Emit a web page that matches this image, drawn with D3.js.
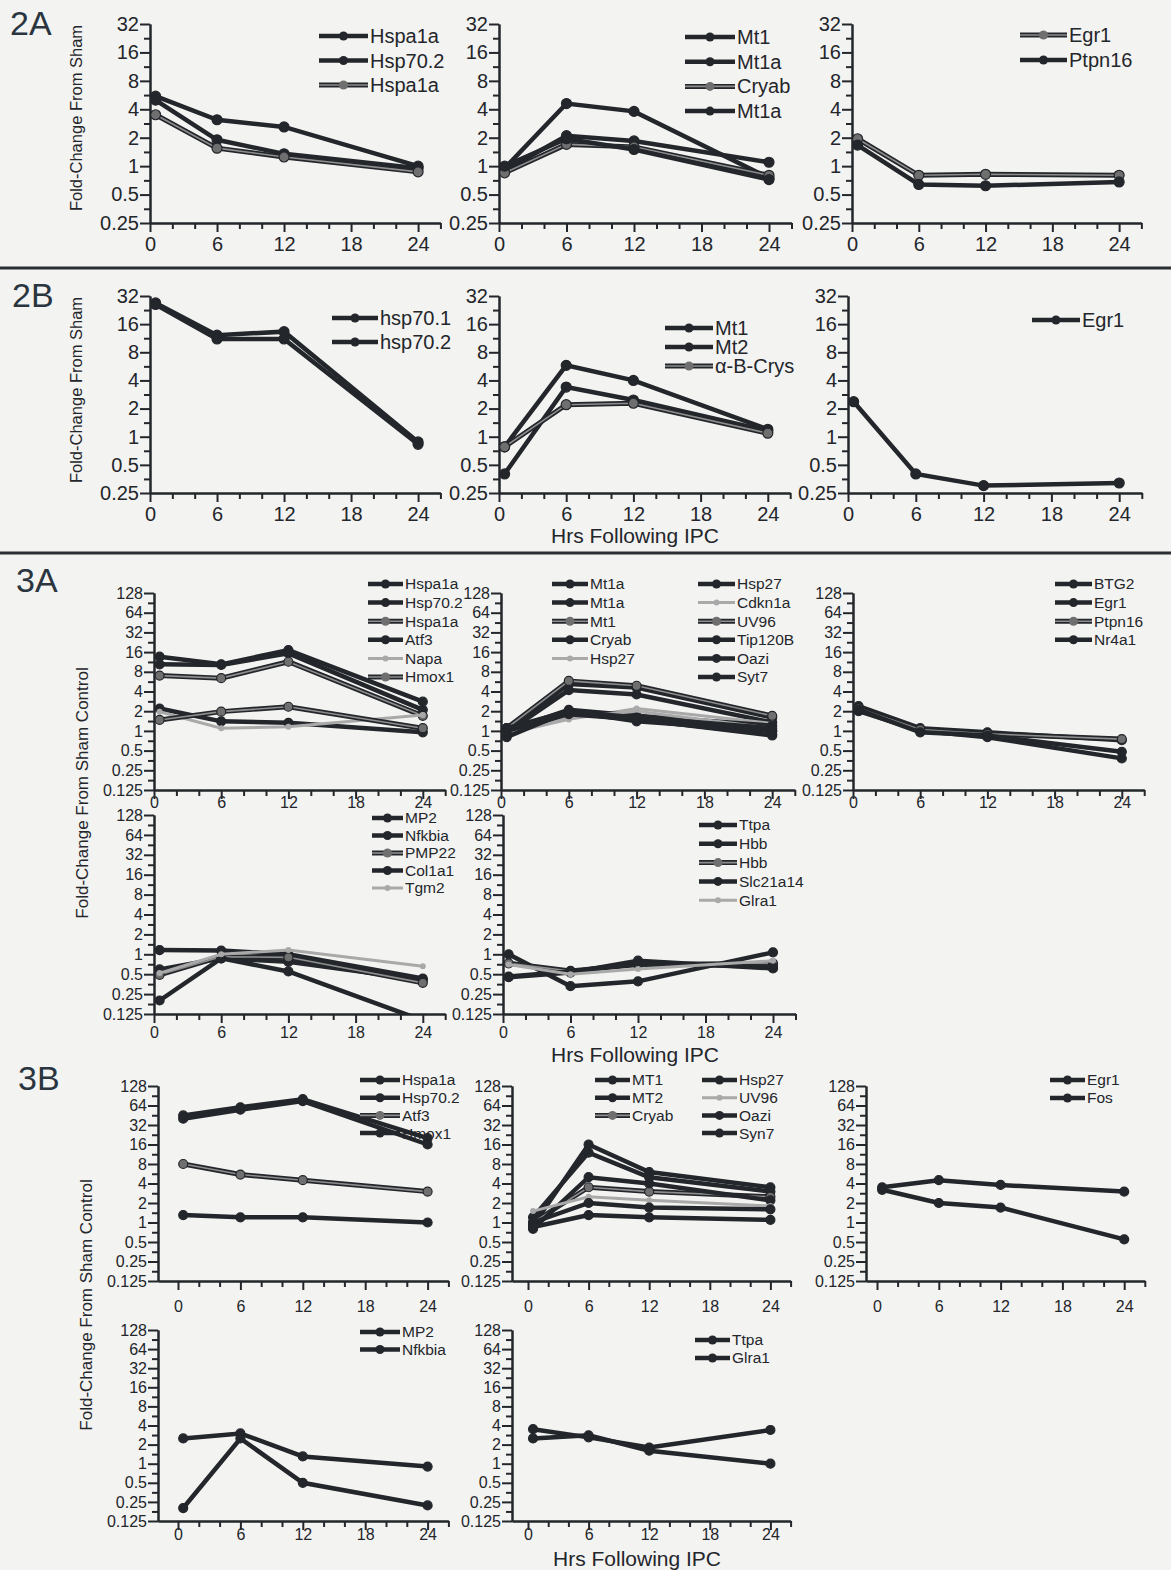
<!DOCTYPE html>
<html>
<head>
<meta charset="utf-8">
<script src="https://cdn.jsdelivr.net/npm/d3@7"></script>
<style>
  body { margin: 0; background: #f3f3f1; }
  svg { display: block; font-family: Arial, "Liberation Sans", sans-serif; }
</style>
</head>
<body>
<svg id="fig" width="1171" height="1570"></svg>
<script>
// ---------- data ----------
const hours = [0.5, 6, 12, 24];
const xTickHours = [0, 6, 12, 18, 24];
const yTicks2 = [0.25, 0.5, 1, 2, 4, 8, 16, 32];
const yTicks3 = [0.125, 0.25, 0.5, 1, 2, 4, 8, 16, 32, 64, 128];

// 2A
const genes2A1 = ["Hspa1a", "Hsp70.2", "Hspa1a"];
const fold2A1 = [[5.5, 3.1, 2.6, 1.0], [5.0, 1.9, 1.35, 0.95], [3.5, 1.55, 1.25, 0.87]];
const genes2A2 = ["Mt1", "Mt1a", "Cryab", "Mt1a"];
const fold2A2 = [[0.95, 4.6, 3.8, 0.75], [0.9, 2.1, 1.85, 1.1], [0.85, 1.7, 1.6, 0.8], [1.0, 1.95, 1.5, 0.72]];
const genes2A3 = ["Egr1", "Ptpn16"];
const fold2A3 = [[1.95, 0.8, 0.82, 0.8], [1.67, 0.64, 0.62, 0.68]];

// 2B
const genes2B1 = ["hsp70.1", "hsp70.2"];
const fold2B1 = [[27, 12.2, 13.3, 0.88], [26, 11.1, 11.1, 0.83]];
const genes2B2 = ["Mt1", "Mt2", "\u03b1-B-Crys"];
const fold2B2 = [[0.78, 5.8, 4.0, 1.2], [0.4, 3.4, 2.47, 1.15], [0.78, 2.2, 2.28, 1.09]];
const genes2B3 = ["Egr1"];
const fold2B3 = [[2.37, 0.4, 0.3, 0.32]];

// 3A
const genes3A1 = ["Hspa1a", "Hsp70.2", "Hspa1a", "Atf3", "Napa", "Hmox1"];
const fold3A1 = [[13.6, 10.4, 17.2, 2.8], [10.4, 10.2, 15.3, 2.1], [7.0, 6.4, 11.4, 1.7],
                 [2.2, 1.4, 1.33, 0.95], [1.96, 1.1, 1.16, 1.75], [1.47, 1.97, 2.34, 1.1]];
const genes3A2 = ["Mt1a", "Mt1a", "Mt1", "Cryab", "Hsp27", "Hsp27", "Cdkn1a", "UV96", "Tip120B", "Oazi", "Syt7"];
const fold3A2 = [[1.0, 5.2, 4.6, 1.6], [0.95, 4.2, 3.6, 1.35], [1.1, 5.8, 4.9, 1.7], [0.85, 2.0, 1.6, 1.0],
                 [0.9, 1.5, 2.2, 1.3], [1.0, 2.1, 1.7, 1.2], [1.05, 1.6, 2.0, 1.1], [0.9, 1.9, 1.5, 0.9],
                 [0.8, 2.0, 1.4, 1.0], [1.0, 1.8, 1.5, 0.85], [1.1, 2.0, 1.6, 1.1]];
const genes3A3 = ["BTG2", "Egr1", "Ptpn16", "Nr4a1"];
const fold3A3 = [[2.4, 1.1, 0.95, 0.72], [2.0, 1.0, 0.8, 0.38], [2.2, 1.05, 0.9, 0.75], [2.1, 0.95, 0.85, 0.48]];
const genes3A4 = ["MP2", "Nfkbia", "PMP22", "Col1a1", "Tgm2"];
const fold3A4 = [[1.16, 1.14, 1.0, 0.43], [0.59, 0.87, 0.77, 0.41], [0.49, 0.92, 0.9, 0.37],
                 [0.2, 0.87, 0.55, 0.1], [0.52, 1.0, 1.16, 0.66]];
const genes3A5 = ["Ttpa", "Hbb", "Hbb", "Slc21a14", "Glra1"];
const fold3A5 = [[1.0, 0.33, 0.39, 1.07], [0.45, 0.53, 0.8, 0.61], [0.73, 0.56, 0.7, 0.73],
                 [0.46, 0.55, 0.72, 0.65], [0.7, 0.5, 0.6, 0.8]];

// 3B
const genes3B1 = ["Hspa1a", "Hsp70.2", "Atf3", "Hmox1"];
const fold3B1 = [[45, 60, 80, 20], [40, 55, 75, 16], [8, 5.5, 4.5, 3], [1.3, 1.2, 1.2, 1.0]];
const genes3B2 = ["MT1", "MT2", "Cryab", "Hsp27", "UV96", "Oazi", "Syn7"];
const fold3B2 = [[0.9, 16, 6, 3.5], [1.2, 12, 5, 3], [1.0, 3.5, 3.0, 2.5], [0.8, 5, 4, 2.2],
                 [1.5, 2.5, 2.2, 1.8], [1.0, 2.0, 1.7, 1.6], [0.85, 1.3, 1.2, 1.1]];
const genes3B3 = ["Egr1", "Fos"];
const fold3B3 = [[3.5, 4.5, 3.8, 3.0], [3.2, 2.0, 1.7, 0.55]];
const genes3B4 = ["MP2", "Nfkbia"];
const fold3B4 = [[2.5, 3.0, 1.3, 0.9], [0.2, 2.5, 0.5, 0.22]];
const genes3B5 = ["Ttpa", "Glra1"];
const fold3B5 = [[3.5, 2.6, 1.8, 3.4], [2.5, 2.8, 1.6, 1.0]];

// ---------- layout ----------
const ink = "#23262b";
const svg = d3.select("#fig");

// d = dark solid, g = gray cased line, l = light gray line
const panels = [
  { genes: genes2A1, fold: fold2A1, style: "ddg", axisX: 150, zeroX: 150, pxH: 11.17, top: 24, bottom: 223, ticks: yTicks2, fs: 20, xBase: 251,
    legend: [{ x: 319, y: 36, dy: 24.5, len: 49, fs: 20, from: 0, to: 3 }] },
  { genes: genes2A2, fold: fold2A2, style: "ddgd", axisX: 499, zeroX: 499, pxH: 11.25, top: 24, bottom: 223, ticks: yTicks2, fs: 20, xBase: 251,
    legend: [{ x: 685, y: 37, dy: 24.7, len: 50, fs: 20, from: 0, to: 4 }] },
  { genes: genes2A3, fold: fold2A3, style: "gd", axisX: 852, zeroX: 852, pxH: 11.13, top: 24, bottom: 223, ticks: yTicks2, fs: 20, xBase: 251,
    legend: [{ x: 1020, y: 35, dy: 25, len: 47, fs: 20, from: 0, to: 2 }] },

  { genes: genes2B1, fold: fold2B1, style: "dd", axisX: 150, zeroX: 150, pxH: 11.17, top: 296, bottom: 493, ticks: yTicks2, fs: 20, xBase: 521,
    legend: [{ x: 332, y: 318, dy: 24, len: 46, fs: 20, from: 0, to: 2 }] },
  { genes: genes2B2, fold: fold2B2, style: "ddg", axisX: 499, zeroX: 499, pxH: 11.2, top: 296, bottom: 493, ticks: yTicks2, fs: 20, xBase: 521,
    legend: [{ x: 665, y: 328, dy: 19, len: 48, fs: 20, from: 0, to: 3 }] },
  { genes: genes2B3, fold: fold2B3, style: "d", axisX: 848, zeroX: 848, pxH: 11.3, top: 296, bottom: 493, ticks: yTicks2, fs: 20, xBase: 521,
    legend: [{ x: 1032, y: 320, dy: 24, len: 48, fs: 20, from: 0, to: 1 }] },

  { genes: genes3A1, fold: fold3A1, style: "ddgdlg", axisX: 154, zeroX: 154, pxH: 11.2, top: 593, bottom: 790, ticks: yTicks3, fs: 16, xBase: 808,
    legend: [{ x: 368, y: 584, dy: 18.6, len: 35, fs: 15.5, from: 0, to: 6 }] },
  { genes: genes3A2, fold: fold3A2, style: "ddgdldlgddd", axisX: 501, zeroX: 501, pxH: 11.3, top: 593, bottom: 790, ticks: yTicks3, fs: 16, xBase: 808,
    legend: [{ x: 552, y: 584, dy: 18.6, len: 36, fs: 15.5, from: 0, to: 5 },
             { x: 698, y: 584, dy: 18.6, len: 37, fs: 15.5, from: 5, to: 11 }] },
  { genes: genes3A3, fold: fold3A3, style: "ddgd", axisX: 853, zeroX: 853, pxH: 11.2, top: 593, bottom: 790, ticks: yTicks3, fs: 16, xBase: 808,
    legend: [{ x: 1055, y: 584, dy: 18.6, len: 37, fs: 15.5, from: 0, to: 4 }] },
  { genes: genes3A4, fold: fold3A4, style: "ddgdl", axisX: 154, zeroX: 154, pxH: 11.2, top: 815, bottom: 1014, ticks: yTicks3, fs: 16, xBase: 1038,
    legend: [{ x: 372, y: 818, dy: 17.5, len: 31, fs: 15.5, from: 0, to: 5 }] },
  { genes: genes3A5, fold: fold3A5, style: "ddgdl", axisX: 503, zeroX: 503, pxH: 11.25, top: 815, bottom: 1014, ticks: yTicks3, fs: 16, xBase: 1038,
    legend: [{ x: 699, y: 825, dy: 18.8, len: 38, fs: 15.5, from: 0, to: 5 }] },

  { genes: genes3B1, fold: fold3B1, style: "ddgd", axisX: 158, zeroX: 178, pxH: 10.4, top: 1086, bottom: 1281, ticks: yTicks3, fs: 16, xBase: 1312,
    legend: [{ x: 360, y: 1080, dy: 17.7, len: 40, fs: 15.5, from: 0, to: 4 }] },
  { genes: genes3B2, fold: fold3B2, style: "ddgdldd", axisX: 512, zeroX: 528, pxH: 10.1, top: 1086, bottom: 1281, ticks: yTicks3, fs: 16, xBase: 1312,
    legend: [{ x: 595, y: 1080, dy: 17.7, len: 35, fs: 15.5, from: 0, to: 3 },
             { x: 702, y: 1080, dy: 17.7, len: 35, fs: 15.5, from: 3, to: 7 }] },
  { genes: genes3B3, fold: fold3B3, style: "dd", axisX: 866, zeroX: 877, pxH: 10.3, top: 1086, bottom: 1281, ticks: yTicks3, fs: 16, xBase: 1312,
    legend: [{ x: 1050, y: 1080, dy: 18, len: 35, fs: 15.5, from: 0, to: 2 }] },
  { genes: genes3B4, fold: fold3B4, style: "dd", axisX: 158, zeroX: 178, pxH: 10.4, top: 1330, bottom: 1521, ticks: yTicks3, fs: 16, xBase: 1540,
    legend: [{ x: 360, y: 1332, dy: 17.5, len: 40, fs: 15.5, from: 0, to: 2 }] },
  { genes: genes3B5, fold: fold3B5, style: "dd", axisX: 512, zeroX: 528, pxH: 10.1, top: 1330, bottom: 1521, ticks: yTicks3, fs: 16, xBase: 1540,
    legend: [{ x: 695, y: 1340, dy: 18, len: 35, fs: 15.5, from: 0, to: 2 }] }
];

function styleAxis(sel, fs) {
  sel.selectAll("path, line").attr("stroke", ink).attr("stroke-width", 2);
  sel.selectAll("text").attr("fill", ink).attr("font-size", fs).attr("font-family", "Arial, 'Liberation Sans', sans-serif");
}

function drawMarks(g, line, pts, style, r) {
  if (style === "g") {
    g.append("path").attr("d", line(pts)).attr("fill", "none").attr("stroke", ink).attr("stroke-width", 5);
    g.append("path").attr("d", line(pts)).attr("fill", "none").attr("stroke", "#8d8d8d").attr("stroke-width", 1.6);
  } else if (style === "l") {
    g.append("path").attr("d", line(pts)).attr("fill", "none").attr("stroke", "#a9a9a9").attr("stroke-width", 3);
  } else {
    g.append("path").attr("d", line(pts)).attr("fill", "none").attr("stroke", ink).attr("stroke-width", 4.5);
  }
  g.selectAll(null).data(pts).join("circle")
    .attr("cx", d => line.x()(d)).attr("cy", d => line.y()(d))
    .attr("r", style === "l" ? r - 1.5 : r)
    .attr("fill", style === "g" ? "#6f6f6f" : style === "l" ? "#a9a9a9" : ink)
    .attr("stroke", style === "l" ? "none" : ink).attr("stroke-width", 1.2);
}

panels.forEach((p, pi) => {
  const g = svg.append("g");
  const tStart = (p.axisX - p.zeroX) / p.pxH;
  const x = d3.scaleLinear().domain([tStart, 26]).range([p.axisX, p.zeroX + 26 * p.pxH]);
  const y = d3.scaleLog().base(2).domain([p.ticks[0], p.ticks[p.ticks.length - 1]]).range([p.bottom, p.top]);

  // y axis: minor + major ticks
  const minorY = p.ticks.slice(0, -1).map(v => v * Math.SQRT2);
  g.append("g").attr("transform", `translate(${p.axisX},0)`)
    .call(d3.axisLeft(y).tickValues(minorY).tickSize(6).tickSizeOuter(0).tickFormat(""))
    .call(styleAxis, p.fs);
  g.append("g").attr("transform", `translate(${p.axisX},0)`)
    .call(d3.axisLeft(y).tickValues(p.ticks).tickSize(10).tickSizeOuter(0).tickPadding(1).tickFormat(d3.format("~g")))
    .call(styleAxis, p.fs);

  // x axis: ticks every 2 h, labels every 6 h
  const minorX = d3.range(2, 27, 2).filter(h => h % 6 !== 0);
  const pad = p.xBase - p.bottom - 9 - 0.71 * p.fs;
  g.append("g").attr("transform", `translate(0,${p.bottom})`)
    .call(d3.axisBottom(x).tickValues(minorX).tickSize(6).tickSizeOuter(0).tickFormat(""))
    .call(styleAxis, p.fs);
  g.append("g").attr("transform", `translate(0,${p.bottom})`)
    .call(d3.axisBottom(x).tickValues(xTickHours).tickSize(9).tickSizeOuter(0).tickPadding(pad))
    .call(styleAxis, p.fs);

  // series
  const clipId = "clip" + pi;
  g.append("clipPath").attr("id", clipId).append("rect")
    .attr("x", p.axisX - 8).attr("y", p.top - 8)
    .attr("width", x.range()[1] - p.axisX + 16).attr("height", p.bottom - p.top + 8);
  const plot = g.append("g").attr("clip-path", `url(#${clipId})`);
  const line = d3.line().x(d => x(d[0])).y(d => y(d[1]));
  p.fold.forEach((vals, si) => {
    const pts = hours.map((h, i) => [h, vals[i]]);
    drawMarks(plot, line, pts, p.style[si], p.fs >= 20 ? 5 : 4.5);
  });

  // legend
  p.legend.forEach(col => {
    for (let i = col.from; i < col.to; i++) {
      const yy = col.y + (i - col.from) * col.dy;
      const lg = g.append("g");
      const seg = d3.line()([[col.x, yy], [col.x + col.len, yy]]);
      const st = p.style[i];
      if (st === "g") {
        lg.append("path").attr("d", seg).attr("stroke", ink).attr("stroke-width", 5);
        lg.append("path").attr("d", seg).attr("stroke", "#8d8d8d").attr("stroke-width", 1.6);
      } else if (st === "l") {
        lg.append("path").attr("d", seg).attr("stroke", "#a9a9a9").attr("stroke-width", 3);
      } else {
        lg.append("path").attr("d", seg).attr("stroke", ink).attr("stroke-width", 4.5);
      }
      lg.append("circle").attr("cx", col.x + col.len / 2).attr("cy", yy).attr("r", st === "l" ? 3 : 4.5)
        .attr("fill", st === "g" ? "#6f6f6f" : st === "l" ? "#a9a9a9" : ink);
      lg.append("text").attr("x", col.x + col.len + 2).attr("y", yy).attr("dy", "0.35em")
        .attr("font-size", col.fs).attr("fill", ink).text(p.genes[i]);
    }
  });
});

// separators
[268, 553].forEach(yy => svg.append("line").attr("x1", 0).attr("x2", 1171).attr("y1", yy).attr("y2", yy)
  .attr("stroke", "#2b2f33").attr("stroke-width", 3));

// panel letters
[["2A", 10, 35], ["2B", 12, 307], ["3A", 16, 592], ["3B", 18, 1090]].forEach(([t, xx, yy]) =>
  svg.append("text").attr("x", xx).attr("y", yy).attr("font-size", 34).attr("fill", "#2a3540").text(t));

// axis titles
[["Fold-Change From Sham", 82, 118, 16.5], ["Fold-Change From Sham", 82, 390, 16.5],
 ["Fold-Change From Sham Control", 88, 793, 17], ["Fold-Change From Sham Control", 92, 1305, 17]]
  .forEach(([t, xx, yy, fs]) => svg.append("text")
    .attr("transform", `translate(${xx},${yy}) rotate(-90)`).attr("text-anchor", "middle")
    .attr("font-size", fs).attr("fill", ink).text(t));

[[635, 543], [635, 1062], [637, 1566]].forEach(([xx, yy]) => svg.append("text")
  .attr("x", xx).attr("y", yy).attr("text-anchor", "middle").attr("font-size", 21).attr("fill", ink)
  .text("Hrs Following IPC"));
</script>
</body>
</html>
